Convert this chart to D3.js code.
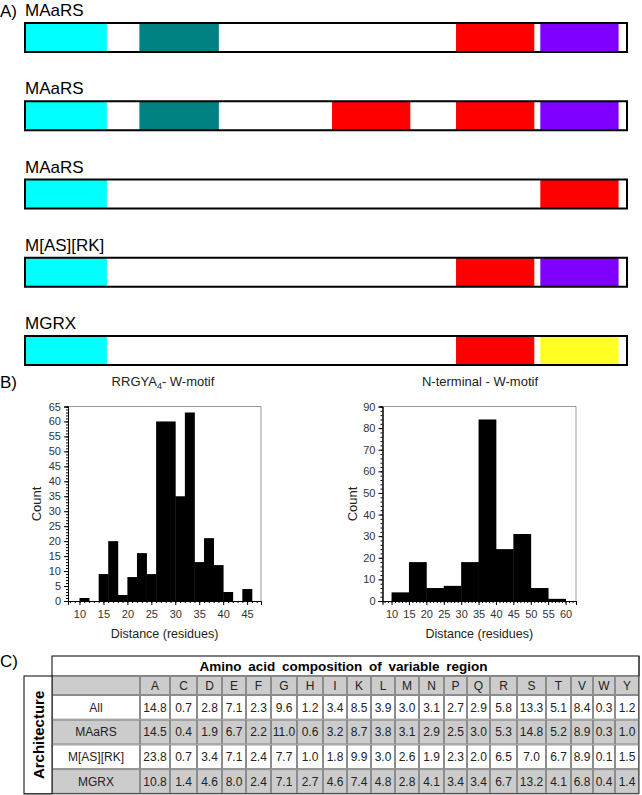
<!DOCTYPE html>
<html><head><meta charset="utf-8">
<script src="https://cdn.jsdelivr.net/npm/d3@7"></script>
<style>body{margin:0;background:#fff} text{font-family:"Liberation Sans",Arial,sans-serif}</style>
</head><body><svg id="c" width="642" height="795"></svg>
<script>
// ---------- DATA ----------
const architectureLabels = ["MAaRS","MAaRS","MAaRS","M[AS][RK]","MGRX"];
const domainColors = {cyan:"#00ffff", teal:"#008080", red:"#ff0000", purple:"#8000ff", yellow:"#ffff22"};
// domains: [type, start, end] on a 0-100 relative protein length
const arch1 = [["cyan",0,13.6],["teal",19,32.2],["red",71.6,84.6],["purple",85.6,98.6]];
const arch2 = [["cyan",0,13.6],["teal",19,32.2],["red",51,64],["red",71.6,84.6],["purple",85.6,98.6]];
const arch3 = [["cyan",0,13.6],["red",85.6,98.6]];
const arch4 = [["cyan",0,13.6],["red",71.6,84.6],["purple",85.6,98.6]];
const arch5 = [["cyan",0,13.6],["red",71.6,84.6],["yellow",85.6,98.6]];
const architectures = [arch1, arch2, arch3, arch4, arch5];

const leftBinStarts = [10,12,14,16,18,20,22,24,26,28,30,32,34,36,38,40,42,44];
const leftCounts    = [1,0,9,20,2,8,16,9,60,60,35,63,13,21,12,3,0,4];
const leftXTicks = [10,15,20,25,30,35,40,45];
const leftYTicks = [0,5,10,15,20,25,30,35,40,45,50,55,60,65];

const rightBinStarts = [10,15,20,25,30,35,40,45,50,55];
const rightCounts    = [4,18,6,7,18,84,24,31,6,1];
const rightXTicks = [10,15,20,25,30,35,40,45,50,55,60];
const rightYTicks = [0,10,20,30,40,50,60,70,80,90];

const aminoAcids = ["A","C","D","E","F","G","H","I","K","L","M","N","P","Q","R","S","T","V","W","Y"];
const rowLabels = ["All","MAaRS","M[AS][RK]","MGRX"];
const compAll   = [14.8,0.7,2.8,7.1,2.3,9.6,1.2,3.4,8.5,3.9,3.0,3.1,2.7,2.9,5.8,13.3,5.1,8.4,0.3,1.2];
const compMAaRS = [14.5,0.4,1.9,6.7,2.2,11.0,0.6,3.2,8.7,3.8,3.1,2.9,2.5,3.0,5.3,14.8,5.2,8.9,0.3,1.0];
const compMASRK = [23.8,0.7,3.4,7.1,2.4,7.7,1.0,1.8,9.9,3.0,2.6,1.9,2.3,2.0,6.5,7.0,6.7,8.9,0.1,1.5];
const compMGRX  = [10.8,1.4,4.6,8.0,2.4,7.1,2.7,4.6,7.4,4.8,2.8,4.1,3.4,3.4,6.7,13.2,4.1,6.8,0.4,1.4];
const compRows = [compAll, compMAaRS, compMASRK, compMGRX];

// ---------- DRAW ----------
const svg = d3.select("#c");

// Panel A
svg.append("text").attr("x",0).attr("y",17).attr("font-size",17).text("A)");
const xA = d3.scaleLinear().domain([0,100]).range([25,627]);
const barTop = d3.scalePoint().domain(d3.range(5)).range([23,336]);
const barH = 29;
architectures.forEach((doms,i)=>{
  const y0 = barTop(i);
  svg.append("text").attr("x",25).attr("y",y0-7).attr("font-size",17).text(architectureLabels[i]);
  svg.append("rect").attr("x",xA(0)).attr("y",y0).attr("width",xA(100)-xA(0)).attr("height",barH).attr("fill","#fff");
  svg.selectAll(null).data(doms).enter().append("rect")
    .attr("x",d=>xA(d[1])).attr("y",y0).attr("width",d=>xA(d[2])-xA(d[1])).attr("height",barH)
    .attr("fill",d=>domainColors[d[0]]);
  svg.append("rect").attr("x",xA(0)).attr("y",y0).attr("width",xA(100)-xA(0)).attr("height",barH)
    .attr("fill","none").attr("stroke","#000").attr("stroke-width",2);
});

// Panel B
svg.append("text").attr("x",0).attr("y",388).attr("font-size",17).text("B)");

function histogram(cfg){
  const x = d3.scaleLinear().domain(cfg.xd).range(cfg.xr);
  const y = d3.scaleLinear().domain(cfg.yd).range([601, 406.5]);
  const g = svg.append("g");
  g.append("path").attr("d",`M${cfg.xr[0]},${y.range()[1]}H${cfg.xr[1]}V${y.range()[0]}`)
    .attr("fill","none").attr("stroke","#999").attr("stroke-width",1);
  g.selectAll("rect.bar").data(cfg.starts).enter().append("rect")
    .attr("x",d=>x(d)).attr("width",d=>x(d+cfg.bw)-x(d)+0.4)
    .attr("y",(d,i)=>y(cfg.counts[i])).attr("height",(d,i)=>y(0)-y(cfg.counts[i]))
    .attr("fill","#000");
  const yMinor = g.append("g").attr("transform",`translate(${cfg.xr[0]},0)`)
    .call(d3.axisLeft(y).tickValues(d3.range(cfg.yd[0],cfg.yd[1]+0.01,cfg.ym)).tickSize(2).tickFormat(""));
  const yAx = g.append("g").attr("transform",`translate(${cfg.xr[0]},0)`)
    .call(d3.axisLeft(y).tickValues(cfg.yt).tickSize(4).tickPadding(3));
  const xMinor = g.append("g").attr("transform",`translate(0,${y(0)})`)
    .call(d3.axisBottom(x).tickValues(d3.range(Math.ceil(cfg.xd[0]),cfg.xd[1],1)).tickSize(2).tickFormat(""));
  const xAx = g.append("g").attr("transform",`translate(0,${y(0)})`)
    .call(d3.axisBottom(x).tickValues(cfg.xt).tickSize(4).tickPadding(5));
  [yMinor,yAx,xMinor,xAx].forEach(a=>{a.selectAll("text").attr("font-size",11).attr("fill","#333").attr("font-family","Liberation Sans, Arial, sans-serif");
    a.select(".domain").attr("stroke","#000");});
  const cx = (cfg.xr[0]+cfg.xr[1])/2;
  g.append("text").attr("x",cx).attr("y",638).attr("text-anchor","middle").attr("font-size",12.5).attr("fill","#222").text("Distance (residues)");
  g.append("text").attr("transform",`translate(${cfg.countX},504) rotate(-90)`).attr("text-anchor","middle").attr("font-size",13).attr("fill","#222").text("Count");
  const t = g.append("text").attr("x",cfg.titleX).attr("y",386).attr("text-anchor","middle").attr("font-size",13).attr("fill","#222");
  cfg.title(t);
}
histogram({xd:[7.6,47.9], xr:[68,261], yd:[0,65], ym:1, yt:leftYTicks, xt:leftXTicks, starts:leftBinStarts, counts:leftCounts, bw:2, countX:41, titleX:163,
  title:t=>{t.append("tspan").text("RRGYA"); t.append("tspan").attr("font-size",9).attr("dy",3).text("4"); t.append("tspan").attr("dy",-3).text("- W-motif");}});
histogram({xd:[7.4,63], xr:[382.5,576], yd:[0,90], ym:2, yt:rightYTicks, xt:rightXTicks, starts:rightBinStarts, counts:rightCounts, bw:5, countX:357, titleX:480,
  title:t=>{t.text("N-terminal - W-motif");}});

// Panel C
svg.append("text").attr("x",0).attr("y",667).attr("font-size",17).text("C)");
const tableLeft = 24, archRight = 52, tableRight = 639;
// column boundaries (layout): label column, then one per amino acid
const colX = [archRight,140,170,197,222,246,271,297,323,347,371,395,419,444,467,490,517,546,571,593,615,tableRight];
const titleTop = 656, headTop = 676, headBottom = 695, rowH = 24.7;
const rowY = d3.scaleLinear().domain([0,4]).range([headBottom, headBottom+4*rowH]);

svg.append("rect").attr("x",archRight).attr("y",titleTop).attr("width",tableRight-archRight).attr("height",headTop-titleTop)
  .attr("fill","#fff").attr("stroke","#000").attr("stroke-width",1);
svg.append("text").attr("x",(archRight+tableRight)/2 - 2).attr("y",671).attr("text-anchor","middle").attr("font-size",13.5)
  .attr("font-weight","bold").attr("word-spacing",3).text("Amino acid composition of variable region");

function cell(x0,x1,y0,y1,fill,txt){
  svg.append("rect").attr("x",x0+0.5).attr("y",y0+0.5).attr("width",x1-x0-1).attr("height",y1-y0-1)
    .attr("fill",fill).attr("stroke","#8c8c8c").attr("stroke-width",1);
  if(txt!==undefined) svg.append("text").attr("x",(x0+x1)/2).attr("y",(y0+y1)/2+4.3).attr("text-anchor","middle")
    .attr("font-size",12).attr("fill","#222").text(txt);
}
const grayFill = "#cccccc";
cell(colX[0],colX[1],headTop,headBottom,grayFill);
aminoAcids.forEach((a,j)=>cell(colX[j+1],colX[j+2],headTop,headBottom,grayFill,a));
rowLabels.forEach((r,i)=>{
  const f = i%2===0 ? "#fff" : grayFill;
  cell(colX[0],colX[1],rowY(i),rowY(i+1),f,r);
  compRows[i].forEach((v,j)=>cell(colX[j+1],colX[j+2],rowY(i),rowY(i+1),f,v.toFixed(1)));
});
svg.append("rect").attr("x",tableLeft).attr("y",headTop).attr("width",archRight-tableLeft).attr("height",rowY(4)-headTop)
  .attr("fill","#fff").attr("stroke","#000").attr("stroke-width",1);
svg.append("text").attr("transform",`translate(${(tableLeft+archRight)/2+5.5},${(headTop+rowY(4))/2}) rotate(-90)`)
  .attr("text-anchor","middle").attr("font-size",15).attr("font-weight","bold").text("Architecture");
svg.append("path").attr("d",`M${tableLeft},${rowY(4)}H${tableRight}V${titleTop}`).attr("fill","none").attr("stroke","#333").attr("stroke-width",1);
</script></body></html>
